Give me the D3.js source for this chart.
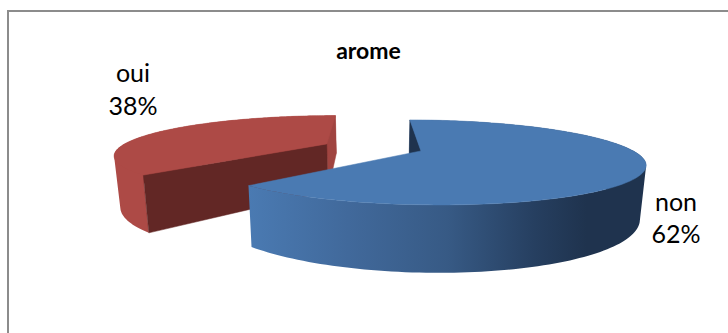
<!DOCTYPE html>
<html><head><meta charset="utf-8">
<script src="https://cdn.jsdelivr.net/npm/d3@7/dist/d3.min.js"></script>
<style>html,body{margin:0;padding:0;background:#fff}svg{display:block}text{font-family:Lato,"Open Sans",sans-serif;fill:#000}</style>
</head><body><svg id="c" width="728" height="333"></svg>
<script>
const categories = ["non", "oui"];
const values = [62.4, 37.6];
const percentLabels = ["62%", "38%"];
const chartTitle = "arome";
const topColors = ["#4a7ab2", "#ad4a46"];
const svg = d3.select("#c");
const defs = svg.append("defs");
const grad = defs.append("linearGradient").attr("id","blueWall").attr("gradientUnits","userSpaceOnUse")
  .attr("x1",249).attr("x2",646).attr("y1",0).attr("y2",0);
[[0,"#4a7ab2"],[0.25,"#41699b"],[0.5,"#375a85"],[0.72,"#263f60"],[0.85,"#1f334e"],[1,"#1f334e"]]
  .forEach(s=>grad.append("stop").attr("offset",s[0]).attr("stop-color",s[1]));

svg.append("path").attr("d","M8 333V11H728").attr("fill","none").attr("stroke","#8c8c8c").attr("stroke-width",2);

// perspective projection of a disc, exploded slices
const B=.27, RX=212.5, VX=369, VY=5, DY=146, OX=52, H=49.6, BASE=[-.227,-.094], EXPL=.245;
function project(x,y,h){
  const w=1-B*y;
  let sx=VX+(OX+RX*x)/w, sy=VY+DY/w;
  if(h){ sy+=H/w; sx+=(378-sx)*.0235; }
  return [sx,sy];
}
const pie=d3.pie().sort(null).value(d=>d);
const slices=pie(values);
const line=d3.line();
function geom(s){
  const mid=(s.startAngle+s.endAngle)/2;
  const cx=BASE[0]+EXPL*Math.sin(mid), cy=BASE[1]-EXPL*Math.cos(mid);
  const pt=(a,r,h)=>project(cx+r*Math.sin(a),cy-r*Math.cos(a),h);
  const arc=h=>d3.range(0,161).map(i=>{const a=s.startAngle+(s.endAngle-s.startAngle)*i/160;return pt(a,1,h)});
  return {pt,arc,s};
}
function poly(g,pts,fill){
  g.append("path").attr("d",line(pts)+"Z").attr("fill",fill).attr("stroke",fill).attr("stroke-width",.5);
}
// the curved wall is one path: every quad wound the same way, so the fill is their union
function wall(g,top,bot,fill){
  const d=d3.range(top.length-1).map(k=>{
    const q=[top[k],top[k+1],bot[k+1],bot[k]];
    return line(d3.polygonArea(q)<0?q.reverse():q)+"Z";
  }).join("");
  g.append("path").attr("d",d).attr("fill",fill).attr("stroke","none");
}
// red slice first (behind), then blue
[1,0].forEach(i=>{
  const s=slices[i], q=geom(s), g=svg.append("g");
  const top=q.arc(0), bot=q.arc(1);
  const c0=q.pt(0,0,0), c1=q.pt(0,0,1);
  if(i===1){
    wall(g,top,bot,"#ad4a46");
    poly(g,[top[160],c0,c1,bot[160]],"#a04440");
    poly(g,[top[0],c0,c1,bot[0]],"#622725");
  } else {
    wall(g,top,bot,"url(#blueWall)");
    poly(g,[top[0],c0,c1,bot[0]],"#1f334e");
  }
  poly(g,[c0].concat(top),topColors[i]);
});

svg.append("text").attr("x",368.5).attr("y",59).attr("text-anchor","middle").attr("font-size",23).attr("font-weight",700).text(chartTitle);
const labelPos=[[676,211,243],[133,82,115]];
categories.forEach((c,i)=>{
  const t=svg.append("text").attr("text-anchor","middle").attr("font-size",25);
  t.append("tspan").attr("x",labelPos[i][0]).attr("y",labelPos[i][1]).text(c);
  t.append("tspan").attr("x",labelPos[i][0]).attr("y",labelPos[i][2]).text(percentLabels[i]);
});
</script></body></html>
